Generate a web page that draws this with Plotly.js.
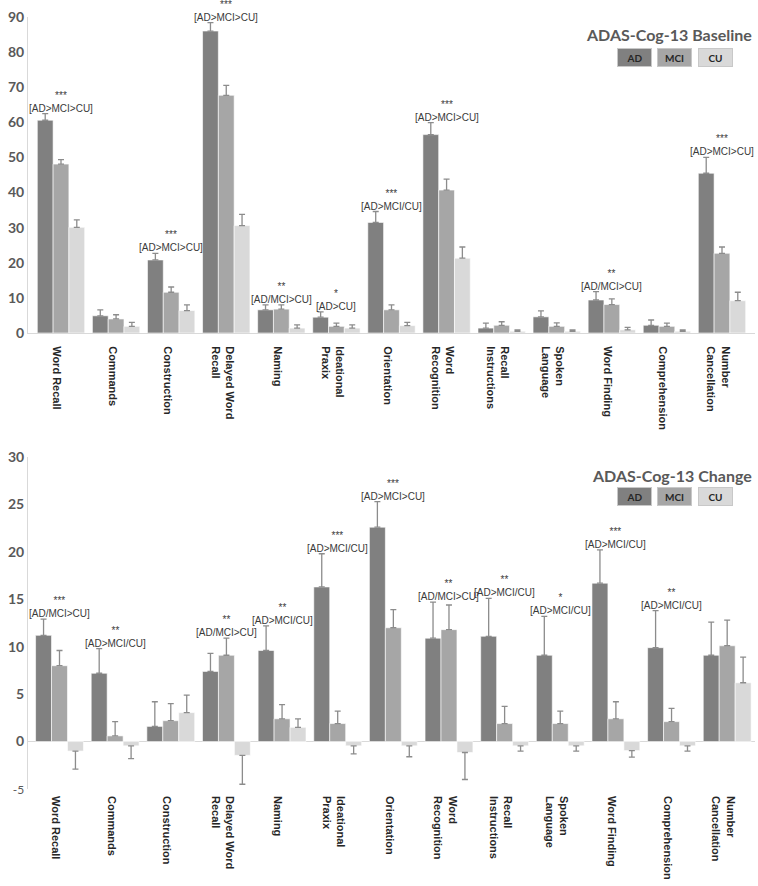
<!DOCTYPE html>
<html><head><meta charset="utf-8">
<script src="https://cdn.plot.ly/plotly-3.0.1.min.js"></script>
<style>html,body{margin:0;padding:0;background:#fff}</style>
</head><body>
<div id="chart" style="width:758px;height:886px"></div>
<script>
// ---- data ----
const categories = ['Word Recall','Commands','Construction','Delayed Word<br>Recall','Naming','Ideational<br>Praxix','Orientation','Word<br>Recognition','Recall<br>Instructions','Spoken<br>Language','Word Finding','Comprehension','Number<br>Cancellation'];
const groups = ['AD','MCI','CU'];

const baselineAD     = [60.6, 4.9, 20.8, 86.0, 6.6, 4.5, 31.5, 56.5, 1.4, 4.6, 9.4, 2.2, 45.5];
const baselineADErr  = [1.9, 1.7, 1.9, 2.4, 1.4, 1.5, 3.1, 3.4, 1.4, 1.7, 2.4, 1.5, 4.5];
const baselineMCI    = [48.1, 4.0, 11.6, 67.7, 6.8, 1.9, 6.6, 40.7, 2.2, 1.9, 8.1, 1.9, 22.7];
const baselineMCIErr = [1.3, 1.2, 1.5, 2.8, 1.2, 0.9, 1.4, 3.1, 1.0, 1.0, 1.6, 0.9, 1.8];
const baselineCU     = [30.1, 1.9, 6.4, 30.6, 1.4, 1.4, 2.1, 21.3, 0.5, 0.5, 0.9, 0.5, 9.2];
const baselineCUErr  = [2.1, 1.1, 1.6, 3.2, 0.9, 0.9, 0.9, 3.2, 0.4, 0.4, 0.7, 0.4, 2.4];

const changeAD     = [11.2, 7.2, 1.6, 7.4, 9.6, 16.3, 22.6, 10.9, 11.1, 9.1, 16.7, 9.9, 9.1];
const changeADErr  = [1.7, 2.6, 2.6, 1.9, 2.6, 3.5, 2.7, 3.8, 4.0, 4.1, 3.5, 3.9, 3.5];
const changeMCI    = [8.0, 0.6, 2.2, 9.1, 2.4, 1.9, 12.0, 11.8, 1.9, 1.9, 2.4, 2.1, 10.1];
const changeMCIErr = [1.6, 1.5, 1.8, 1.8, 1.5, 1.3, 1.9, 2.6, 1.8, 1.3, 1.8, 1.4, 2.7];
const changeCU     = [-1.0, -0.45, 3.05, -1.45, 1.5, -0.45, -0.45, -1.15, -0.45, -0.45, -0.95, -0.45, 6.2];
const changeCUErr  = [1.9, 1.35, 1.85, 3.05, 0.9, 0.85, 1.15, 2.85, 0.55, 0.55, 0.7, 0.55, 2.7];

const baselineStars = ['***','','***','***','**','*','***','***','','','**','','***'];
const baselineSig   = ['[AD>MCI>CU]','','[AD>MCI>CU]','[AD>MCI>CU]','[AD/MCI>CU]','[AD>CU]','[AD>MCI/CU]','[AD>MCI>CU]','','','[AD/MCI>CU]','','[AD>MCI>CU]'];
const changeStars   = ['***','**','','**','**','***','***','**','**','*','***','**',''];
const changeSig     = ['[AD/MCI>CU]','[AD>MCI/CU]','','[AD/MCI>CU]','[AD>MCI/CU]','[AD>MCI/CU]','[AD>MCI>CU]','[AD/MCI>CU]','[AD>MCI/CU]','[AD>MCI/CU]','[AD>MCI/CU]','[AD>MCI/CU]',''];

const baselineTicks = [0,10,20,30,40,50,60,70,80,90];
const changeTicks = [-5,0,5,10,15,20,25,30];
const titles = ['ADAS-Cog-13 Baseline','ADAS-Cog-13 Change'];

// ---- styles ----
const colors = ['#808080','#a6a6a6','#d9d9d9'];
const W = 758, H = 886;
const px = x => x / W, py = y => 1 - y / H;

function barTrace(vals, errs, i, xa, ya) {
  return {
    type: 'bar', x: categories, y: vals, name: groups[i], xaxis: xa, yaxis: ya,
    marker: {color: colors[i], line: {color: '#ffffff', width: 0.6}},
    error_y: {
      type: 'data', symmetric: false,
      array: vals.map((v, k) => v >= 0 ? errs[k] : 0),
      arrayminus: vals.map((v, k) => v < 0 ? errs[k] : 0),
      color: '#8c8c8c', thickness: 1.3, width: 3
    },
    showlegend: false, hoverinfo: 'skip'
  };
}

const traces = [
  barTrace(baselineAD, baselineADErr, 0, 'x', 'y'),
  barTrace(baselineMCI, baselineMCIErr, 1, 'x', 'y'),
  barTrace(baselineCU, baselineCUErr, 2, 'x', 'y'),
  barTrace(changeAD, changeADErr, 0, 'x2', 'y2'),
  barTrace(changeMCI, changeMCIErr, 1, 'x2', 'y2'),
  barTrace(changeCU, changeCUErr, 2, 'x2', 'y2')
];

const annotations = [];
function sigAnnots(stars, sig, series, xr, yr) {
  categories.forEach((c, k) => {
    if (!sig[k]) return;
    const top = Math.max(...series.map(([v, e]) => v[k] >= 0 ? v[k] + e[k] : 0));
    annotations.push({
      xref: xr, yref: yr, x: c, y: top, xanchor: 'center', yanchor: 'bottom', yshift: -1,
      text: stars[k] + '<br>' + sig[k], showarrow: false, borderpad: 0,
      font: {family: 'Liberation Sans, Arial, sans-serif', size: 10, color: '#3a3a3a'}
    });
  });
}
sigAnnots(baselineStars, baselineSig, [[baselineAD, baselineADErr],[baselineMCI, baselineMCIErr],[baselineCU, baselineCUErr]], 'x', 'y');
sigAnnots(changeStars, changeSig, [[changeAD, changeADErr],[changeMCI, changeMCIErr],[changeCU, changeCUErr]], 'x2', 'y2');

// titles + legend boxes
const titleY = [35, 475], boxY = [57, 496], boxX = [632, 674.5, 717];
titles.forEach((t, j) => {
  annotations.push({
    xref: 'paper', yref: 'paper', x: px(757), y: py(titleY[j]), xanchor: 'right', yanchor: 'middle',
    text: '<b>' + t + '</b>', showarrow: false,
    font: {family: 'Lato, Open Sans, sans-serif', size: 16, color: '#595959'}
  });
  groups.forEach((g, i) => {
    annotations.push({
      xref: 'paper', yref: 'paper', x: px(boxX[i]), y: py(boxY[j]), xanchor: 'center', yanchor: 'middle',
      text: '<b>' + g + '</b>', showarrow: false, width: 33, height: 17, borderpad: 0,
      bgcolor: colors[i], bordercolor: '#c8c8c8', borderwidth: 1,
      font: {family: 'Lato, Open Sans, sans-serif', size: 10, color: '#262626'}
    });
  });
});

const xTickFont = {family: 'Liberation Sans, Arial, sans-serif', size: 11, color: '#262626'};
const yTickFont = {family: 'Lato, Open Sans, sans-serif', size: 14, color: '#595959'};
const xBase = {
  type: 'category', tickangle: 90, tickfont: xTickFont, ticks: '', showgrid: false,
  zeroline: false, categoryorder: 'array', categoryarray: categories,
  tickvals: categories, ticktext: categories.map(c => '<b>' + c + '</b>'), ticklabelshift: -4
};

const layout = {
  width: W, height: H,
  margin: {l: 28, r: 3, t: 0, b: 0},
  paper_bgcolor: '#ffffff', plot_bgcolor: 'rgba(0,0,0,0)',
  barmode: 'group', bargap: 0.14, bargroupgap: 0,
  xaxis: Object.assign({}, xBase, {anchor: 'y', showline: true, linecolor: '#d9d9d9', linewidth: 1, ticklabelstandoff: 10}),
  yaxis: {domain: [py(333), py(17)], range: [0, 90], tickvals: baselineTicks,
    ticktext: baselineTicks.map(v => '<b>' + v + '</b>'), tickfont: yTickFont,
    showgrid: false, zeroline: false, showline: true, linecolor: '#d9d9d9', linewidth: 1, ticks: ''},
  xaxis2: Object.assign({}, xBase, {anchor: 'y2', showline: false, ticklabelstandoff: 6}),
  yaxis2: {domain: [py(789), py(457)], range: [-5, 30], tickvals: changeTicks,
    ticktext: changeTicks.map(v => v === -5 ? '<span style="font-size:12px">-5</span>' : '<b>' + v + '</b>'),
    tickfont: yTickFont, showgrid: false, zeroline: true, zerolinecolor: '#d9d9d9', zerolinewidth: 1,
    showline: true, linecolor: '#d9d9d9', linewidth: 1, ticks: ''},
  annotations: annotations
};

Plotly.newPlot('chart', traces, layout, {displayModeBar: false, staticPlot: true});
</script>
</body></html>
